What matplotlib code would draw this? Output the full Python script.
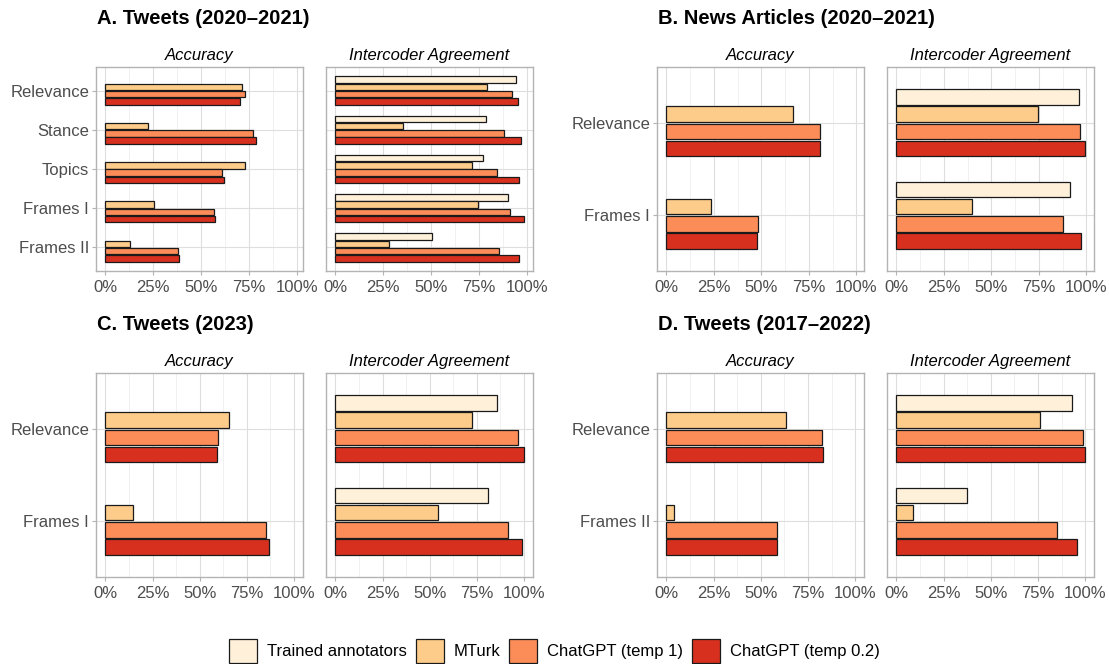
import numpy as np
import matplotlib
matplotlib.use("Agg")
import matplotlib.pyplot as plt
from matplotlib.patches import Patch
from matplotlib.ticker import MultipleLocator, FuncFormatter

plt.rcParams["font.family"] = ["Liberation Sans", "DejaVu Sans"]

# ---- data -------------------------------------------------------------
series = ["Trained annotators", "MTurk", "ChatGPT (temp 1)", "ChatGPT (temp 0.2)"]
colors = ["#fef0d9", "#fdcc8a", "#fc8d59", "#d7301f"]
nan = np.nan

# A. Tweets (2020-2021)
a_cats = ["Relevance", "Stance", "Topics", "Frames I", "Frames II"]
a_acc = [
    [nan, nan, nan, nan, nan],
    [0.714, 0.222, 0.730, 0.256, 0.128],
    [0.730, 0.769, 0.610, 0.567, 0.380],
    [0.704, 0.789, 0.619, 0.572, 0.383],
]
a_ica = [
    [0.943, 0.787, 0.771, 0.903, 0.503],
    [0.794, 0.354, 0.712, 0.747, 0.282],
    [0.922, 0.880, 0.846, 0.913, 0.853],
    [0.953, 0.971, 0.958, 0.983, 0.960],
]

# B. News Articles (2020-2021)
b_cats = ["Relevance", "Frames I"]
b_acc = [
    [nan, nan],
    [0.666, 0.236],
    [0.808, 0.484],
    [0.808, 0.479],
]
b_ica = [
    [0.963, 0.913],
    [0.748, 0.400],
    [0.967, 0.878],
    [0.991, 0.974],
]

# C. Tweets (2023)
c_cats = ["Relevance", "Frames I"]
c_acc = [
    [nan, nan],
    [0.657, 0.148],
    [0.597, 0.850],
    [0.590, 0.868],
]
c_ica = [
    [0.857, 0.810],
    [0.727, 0.544],
    [0.970, 0.917],
    [0.998, 0.991],
]

# D. Tweets (2017-2022)
d_cats = ["Relevance", "Frames II"]
d_acc = [
    [nan, nan],
    [0.635, 0.042],
    [0.826, 0.584],
    [0.828, 0.586],
]
d_ica = [
    [0.932, 0.374],
    [0.758, 0.086],
    [0.989, 0.849],
    [0.996, 0.956],
]

panels = [
    ("A. Tweets (2020\u20132021)", a_cats, a_acc, a_ica, 96, 67),
    ("B. News Articles (2020\u20132021)", b_cats, b_acc, b_ica, 657, 67),
    ("C. Tweets (2023)", c_cats, c_acc, c_ica, 96, 373),
    ("D. Tweets (2017\u20132022)", d_cats, d_acc, d_ica, 657, 373),
]

# ---- layout -----------------------------------------------------------
W, H = 1109, 664
fig = plt.figure(figsize=(W / 100, H / 100), dpi=100)


def rect(x0, y0, x1, y1):
    return [x0 / W, 1 - y1 / H, (x1 - x0) / W, (y1 - y0) / H]


SLOT = 0.185
BAR_H = 0.165
PANEL_W = 207
PANEL_H = 204
GAP = 23


def draw_facet(ax, cats, vals, xmax, show_y):
    y = np.arange(len(cats))
    for k, (vs, col) in enumerate(zip(vals, colors)):
        off = (k - 1.5) * SLOT
        vs = np.array(vs, dtype=float)
        ok = ~np.isnan(vs)
        ax.barh(y[ok] + off, vs[ok], height=BAR_H, color=col,
                edgecolor="#1a1a1a", linewidth=0.9, zorder=3)
    ax.set_xlim(-0.05 * xmax, 1.05 * xmax)
    ax.set_ylim(len(cats) - 1 + 0.6, -0.6)
    ax.xaxis.set_major_locator(MultipleLocator(0.25))
    ax.xaxis.set_minor_locator(MultipleLocator(0.125))
    ax.xaxis.set_major_formatter(FuncFormatter(lambda v, p: f"{v * 100:.0f}%"))
    ax.set_yticks(y)
    ax.grid(True, which="major", color="#dedede", linewidth=0.8, zorder=0)
    ax.grid(True, which="minor", axis="x", color="#ececec", linewidth=0.5, zorder=0)
    ax.set_axisbelow(True)
    for s in ax.spines.values():
        s.set_color("#b3b3b3")
        s.set_linewidth(1.0)
    ax.tick_params(axis="both", which="major", length=3, color="#b3b3b3",
                   labelsize=12, labelcolor="#4d4d4d", pad=2)
    ax.tick_params(axis="x", which="major", pad=3.5)
    ax.tick_params(axis="x", which="minor", length=0)
    if show_y:
        ax.set_yticklabels(cats)
    else:
        ax.tick_params(axis="y", length=0, labelleft=False)


for title, cats, acc, ica, x0, y0 in panels:
    xmax = np.nanmax(np.concatenate([np.ravel(acc), np.ravel(ica)]))
    ax1 = fig.add_axes(rect(x0, y0, x0 + PANEL_W, y0 + PANEL_H))
    ax2 = fig.add_axes(rect(x0 + PANEL_W + GAP, y0, x0 + 2 * PANEL_W + GAP, y0 + PANEL_H))
    draw_facet(ax1, cats, acc, xmax, True)
    draw_facet(ax2, cats, ica, xmax, False)
    ax1.set_title("Accuracy", fontstyle="italic", fontsize=12, pad=5)
    ax2.set_title("Intercoder Agreement", fontstyle="italic", fontsize=12, pad=5)
    fig.text((x0 + 1) / W, 1 - (y0 - 48) / H, title, fontsize=14.5, fontweight="bold",
             ha="left", va="center")

handles = [Patch(facecolor=c, edgecolor="#1a1a1a", linewidth=0.9) for c in colors]
fig.legend(handles, series, loc="center", bbox_to_anchor=(0.5, 1 - 651 / H), ncol=4,
           frameon=False, fontsize=12, handlelength=1.7, handleheight=1.9,
           handletextpad=0.6, columnspacing=0.5)

fig.savefig("out.png", dpi=100)
